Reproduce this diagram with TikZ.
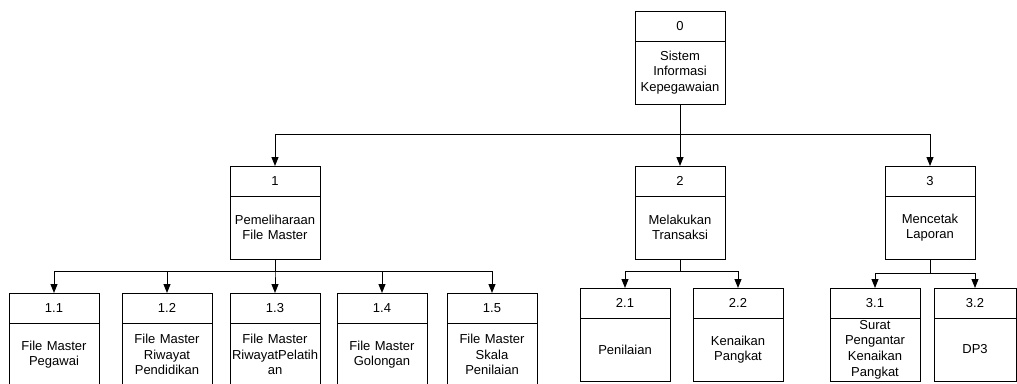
\documentclass[tikz,border=0pt]{standalone}
\usepackage{fontspec}
\setmainfont{Liberation Sans}
\usetikzlibrary{arrows.meta,positioning}
\tikzset{
  head/.style={
    rectangle, draw, line width=1pt,
    minimum width=90pt, minimum height=30pt,
    inner sep=0pt, outer sep=0pt,
    font=\fontsize{13}{15.6}\selectfont,
  },
  body/.style={
    rectangle, draw, line width=1pt,
    minimum width=90pt, minimum height=63pt,
    text width=86pt, align=center,
    inner sep=0pt, outer sep=0pt,
    font=\fontsize{13}{15.6}\selectfont,
  },
  arr/.style={-{Triangle[length=9pt,width=7pt]}, line width=1pt},
}
\begin{document}
\begin{tikzpicture}[x=1pt,y=-1pt]
\useasboundingbox (0,0) rectangle (1017,383);
\clip (0,0) rectangle (1017,383);

% ===== Level 0 =====
\node[head] (h0) at (680,26) {0};
\node[body, below=0pt of h0] (p0) {Sistem\\Informasi\\Kepegawaian};

% ===== Level 1 =====
\node[head] (h1) at (275,181) {1};
\node[body, below=0pt of h1] (p1) {Pemeliharaan\\File Master};
\node[head] (h2) at (680,181) {2};
\node[body, below=0pt of h2] (p2) {Melakukan\\Transaksi};
\node[head] (h3) at (930,181) {3};
\node[body, below=0pt of h3] (p3) {Mencetak\\Laporan};

\draw[arr] (p0.south) -- ++(0,30) -| (h1.north);
\draw[arr] (p0.south) -- (h2.north);
\draw[arr] (p0.south) -- ++(0,30) -| (h3.north);

% ===== Level 2: File Master =====
\node[head] (h11) at (54,308) {1.1};
\node[body, below=0pt of h11] (p11) {File Master\\Pegawai};
\node[head] (h12) at (167,308) {1.2};
\node[body, below=0pt of h12] (p12) {File Master\\Riwayat\\Pendidikan};
\node[head] (h13) at (275,308) {1.3};
\node[body, below=0pt of h13] (p13) {File Master\\RiwayatPelatih\\an};
\node[head] (h14) at (382,308) {1.4};
\node[body, below=0pt of h14] (p14) {File Master\\Golongan};
\node[head] (h15) at (492,308) {1.5};
\node[body, below=0pt of h15] (p15) {File Master\\Skala\\Penilaian};

\foreach \c in {11,12,13,14,15}
  \draw[arr] (p1.south) -- ++(0,12) -| (h\c.north);

% ===== Level 2: Transaksi =====
\node[head] (h21) at (625,303) {2.1};
\node[body, below=0pt of h21] (p21) {Penilaian};
\node[head] (h22) at (738,303) {2.2};
\node[body, below=0pt of h22] (p22) {Kenaikan\\Pangkat};

\foreach \c in {21,22}
  \draw[arr] (p2.south) -- ++(0,12) -| (h\c.north);

% ===== Level 2: Laporan =====
\node[head] (h31) at (875,303) {3.1};
\node[body, below=0pt of h31] (p31) {Surat\\Pengantar\\Kenaikan\\Pangkat};
\node[head, minimum width=82pt] (h32) at (975,303) {3.2};
\node[body, minimum width=82pt, text width=78pt, below=0pt of h32] (p32) {DP3};

\foreach \c in {31,32}
  \draw[arr] (p3.south) -- ++(0,14) -| (h\c.north);

\end{tikzpicture}
\end{document}
